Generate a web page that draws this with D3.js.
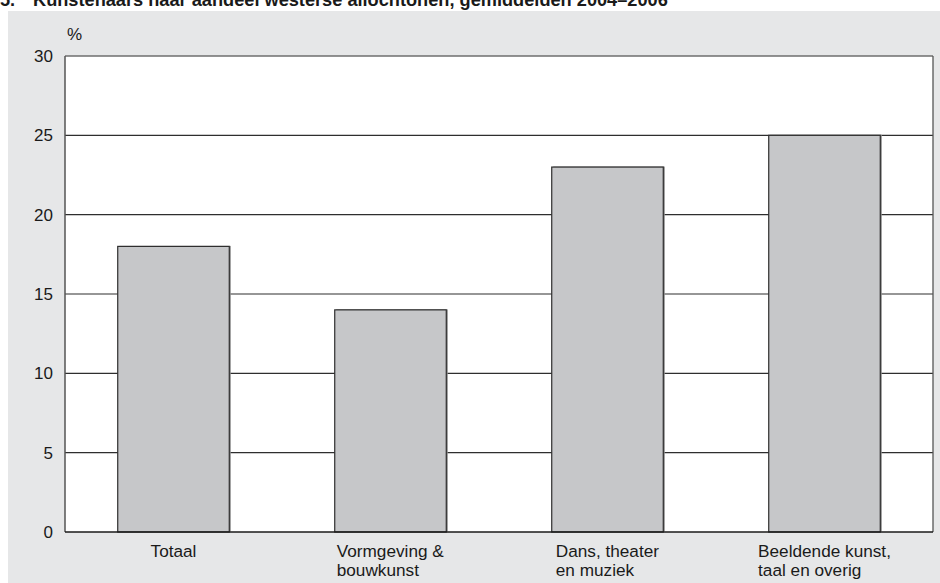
<!DOCTYPE html>
<html><head><meta charset="utf-8">
<script src="https://cdn.jsdelivr.net/npm/d3@7"></script>
<style>body{margin:0;background:#fff}svg{display:block;font-family:"Liberation Sans",Arial,sans-serif}</style>
</head><body>
<svg id="c" width="940" height="583"></svg>
<script>
const titleNumber = "5.";
const titleText = "Kunstenaars naar aandeel westerse allochtonen, gemiddelden 2004\u20132006";
const categories = [["Totaal"], ["Vormgeving &", "bouwkunst"], ["Dans, theater", "en muziek"], ["Beeldende kunst,", "taal en overig"]];
const values = [18, 14, 23, 25];
const yTicks = [0, 5, 10, 15, 20, 25, 30];
const unitLabel = "%";

const svg = d3.select("#c");
const m = {left: 65, right: 933, top: 56, bottom: 532};

svg.append("rect").attr("x", 8).attr("y", 11).attr("width", 932).attr("height", 572).attr("fill", "#e6e7e8");
const tt = svg.append("text").attr("y", 6).attr("font-size", 18.2).attr("font-weight", "bold").attr("fill", "#1a1a1a");
tt.append("tspan").attr("x", 0).text(titleNumber);
tt.append("tspan").attr("x", 33).text(titleText);

const x = d3.scaleBand().domain(d3.range(categories.length)).range([m.left, m.right]).paddingInner(0.486).paddingOuter(0.243);
const y = d3.scaleLinear().domain([0, 30]).range([m.bottom, m.top]);

svg.append("rect").attr("x", m.left).attr("y", m.top).attr("width", m.right - m.left).attr("height", m.bottom - m.top).attr("fill", "#fff");

// gridlines
svg.append("g").selectAll("line").data(yTicks.filter(t => t > 0 && t < 30)).join("line")
  .attr("x1", m.left).attr("x2", m.right).attr("y1", d => y(d)).attr("y2", d => y(d))
  .attr("stroke", "#2e2e2e").attr("stroke-width", 1.2);

// bars shadow
svg.append("g").selectAll("rect").data(values).join("rect")
  .attr("x", (d, i) => x(i) + 1.5).attr("y", d => y(d) - 0.5).attr("width", x.bandwidth()).attr("height", d => y(0) - y(d))
  .attr("fill", "#8a8a8a");
svg.append("g").selectAll("rect").data(values).join("rect")
  .attr("x", (d, i) => x(i)).attr("y", d => y(d)).attr("width", x.bandwidth()).attr("height", d => y(0) - y(d))
  .attr("fill", "#c6c7c9").attr("stroke", "#2e2e2e").attr("stroke-width", 1.2);

// frame
svg.append("line").attr("x1", m.left).attr("x2", m.right).attr("y1", m.top).attr("y2", m.top).attr("stroke", "#6e6e6e").attr("stroke-width", 1.5);
svg.append("line").attr("x1", m.right).attr("x2", m.right).attr("y1", m.top).attr("y2", m.bottom).attr("stroke", "#555").attr("stroke-width", 1.3);
svg.append("line").attr("x1", m.left).attr("x2", m.left).attr("y1", m.top).attr("y2", m.bottom).attr("stroke", "#555").attr("stroke-width", 1.5);
svg.append("line").attr("x1", m.left).attr("x2", m.right).attr("y1", m.bottom).attr("y2", m.bottom).attr("stroke", "#1a1a1a").attr("stroke-width", 1.5);

// y axis labels
const yAxis = d3.axisLeft(y).tickValues(yTicks).tickSize(0).tickPadding(12);
const ga = svg.append("g").attr("transform", `translate(${m.left},0)`).call(yAxis);
ga.select(".domain").remove();
ga.selectAll("text").attr("font-size", 17).attr("fill", "#1a1a1a").attr("font-family", "Liberation Sans, Arial, sans-serif");

svg.append("text").attr("x", 67).attr("y", 40).attr("font-size", 17).attr("fill", "#1a1a1a").text(unitLabel);

// category labels: left-aligned blocks centered under bar
categories.forEach((lines, i) => {
  const t = svg.append("text").attr("font-size", 17.2).attr("fill", "#1a1a1a");
  lines.forEach((l, j) => t.append("tspan").attr("x", 0).attr("y", 557 + j * 19).text(l));
  const w = t.node().getBBox().width;
  t.attr("transform", `translate(${x(i) + x.bandwidth() / 2 - w / 2},0)`);
});
</script>
</body></html>
